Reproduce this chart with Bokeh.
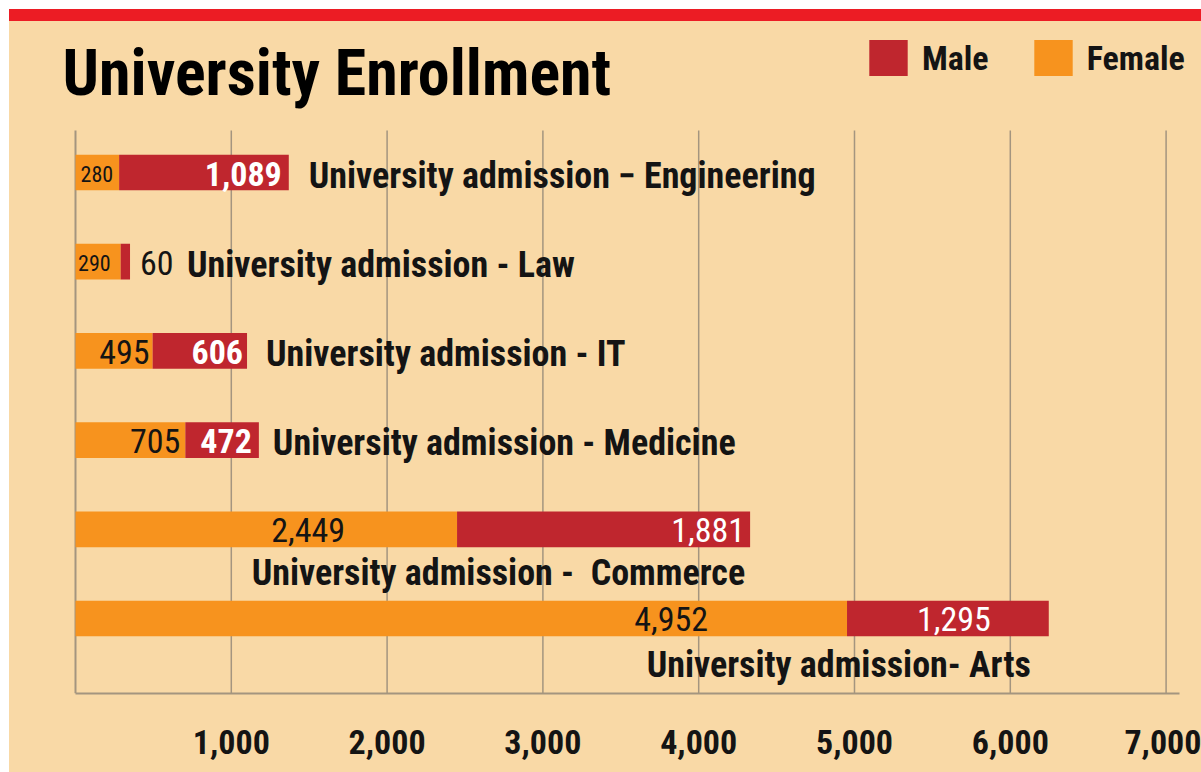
from bokeh.plotting import figure
from bokeh.models import (ColumnDataSource, Range1d, Label, Legend, LegendItem,
                          FixedTicker, NumeralTickFormatter, Div)
from bokeh.layouts import column
from bokeh.core.properties import value
from bokeh.embed import file_html
from bokeh.resources import INLINE

# ---------------- data ----------------
fields = ["Engineering", "Law", "IT", "Medicine", "Commerce", "Arts"]
labels = ["University admission \u2212 Engineering",
          "University admission - Law",
          "University admission - IT",
          "University admission - Medicine",
          "University admission -\u00a0 Commerce",
          "University admission- Arts"]
female = [280, 290, 495, 705, 2449, 4952]
male = [1089, 60, 606, 472, 1881, 1295]
tick_values = [1000, 2000, 3000, 4000, 5000, 6000, 7000]

# ---------------- styles ----------------
BG = "#F9D9A6"
RED = "#BF262E"
ORANGE = "#F7931E"
STRIP = "#EC1C24"
GRID = "#A4957F"
DARK = "#141414"
FONT = "'Roboto Condensed', 'DejaVu Sans Condensed', sans-serif"

GRID_TOP, GRID_BOTTOM, AXIS_END = -0.471, 5.841, 7083

rows = list(range(len(fields)))
total = [f + m for f, m in zip(female, male)]

src = ColumnDataSource(dict(y=rows, female=female, male=male))

p = figure(width=1192, height=751,
           x_range=Range1d(-353, 7208), y_range=Range1d(GRID_BOTTOM, -1.693),
           output_backend="svg", toolbar_location=None,
           min_border_left=11, min_border_right=3,
           min_border_top=0, min_border_bottom=79,
           background_fill_color=BG, border_fill_color=BG,
           outline_line_color=None)

# grid lines and left line (bounded, drawn below bars)
p.segment(x0=tick_values, y0=[GRID_TOP] * len(tick_values),
          x1=tick_values, y1=[GRID_BOTTOM] * len(tick_values),
          line_color=GRID, line_width=1.5)
p.segment(x0=[0], y0=[GRID_TOP], x1=[0], y1=[GRID_BOTTOM],
          line_color=GRID, line_width=2)

r_female, r_male = p.hbar_stack(["female", "male"], y="y", height=0.40,
                                color=[ORANGE, RED], line_color=None, source=src)

# female value labels
f_pad = [6, 10, 3, 5, 112, 139]
f_size = ["22px", "22px", "34px", "34px", "34px", "34px"]
fsrc = ColumnDataSource(dict(x=female, y=rows,
                             text=[f"{v:,}" for v in female],
                             xo=[-v for v in f_pad], size=f_size))
p.text(x="x", y="y", text="text", source=fsrc, x_offset="xo", y_offset=1,
       text_align="right", text_baseline="middle", text_color=DARK,
       text_font=value(FONT), text_font_size="size")

# male value labels
m_off = [-7, 10, -4, -7, -5, -58]
m_align = ["right", "left", "right", "right", "right", "right"]
m_color = ["white", DARK, "white", "white", "white", "white"]
m_style = ["bold", "normal", "bold", "bold", "normal", "normal"]
msrc = ColumnDataSource(dict(x=total, y=rows,
                             text=[f"{v:,}" for v in male],
                             xo=m_off, al=m_align, col=m_color, st=m_style))
p.text(x="x", y="y", text="text", source=msrc, x_offset="xo", y_offset=1,
       text_align="al", text_baseline="middle", text_color="col",
       text_font=value(FONT), text_font_size="34px", text_font_style="st")

# category labels
c_xo = [20, 57, 19, 14, -5, -18]
c_yo = [3, 3, 3, 3, 44, 47]
c_align = ["left", "left", "left", "left", "right", "right"]
csrc = ColumnDataSource(dict(x=total, y=rows, text=labels,
                             xo=c_xo, yo=c_yo, al=c_align))
p.text(x="x", y="y", text="text", source=csrc, x_offset="xo", y_offset="yo",
       text_align="al", text_baseline="middle", text_color=DARK,
       text_font=value(FONT), text_font_size="36px", text_font_style="bold")

# axes
p.xaxis.ticker = FixedTicker(ticks=tick_values)
p.xaxis.formatter = NumeralTickFormatter(format="0,0")
p.xaxis.bounds = (0, AXIS_END)
p.xaxis.major_tick_line_color = None
p.xaxis.minor_tick_line_color = None
p.xaxis.axis_line_color = GRID
p.xaxis.axis_line_width = 2
p.xaxis.major_label_standoff = 30
p.xaxis.major_label_text_font = FONT
p.xaxis.major_label_text_font_size = "34px"
p.xaxis.major_label_text_font_style = "bold"
p.xaxis.major_label_text_color = DARK
p.yaxis.visible = False
p.xgrid.visible = False
p.ygrid.visible = False

# title
p.add_layout(Label(x=42, y=620, x_units="screen", y_units="screen",
                   text="University Enrollment", text_font=FONT,
                   text_font_size="64px", text_font_style="bold",
                   text_color="#000000", text_baseline="alphabetic"))

# legend
legend = Legend(items=[LegendItem(label="Male", renderers=[r_male]),
                       LegendItem(label="Female", renderers=[r_female])],
                orientation="horizontal", location=(844, 613),
                glyph_width=48, glyph_height=45, label_standoff=10,
                spacing=40, padding=0, margin=0,
                border_line_color=None, background_fill_alpha=0,
                label_text_font=FONT, label_text_font_size="34px",
                label_text_font_style="bold", label_text_color=DARK)
p.add_layout(legend)

strip = Div(width=1192, height=12, margin=0,
            styles={"background-color": STRIP})
layout = column(strip, p, margin=(9, 0, 0, 9),
                styles={"background-color": BG})

open("out.html", "w").write(file_html(layout, INLINE))
